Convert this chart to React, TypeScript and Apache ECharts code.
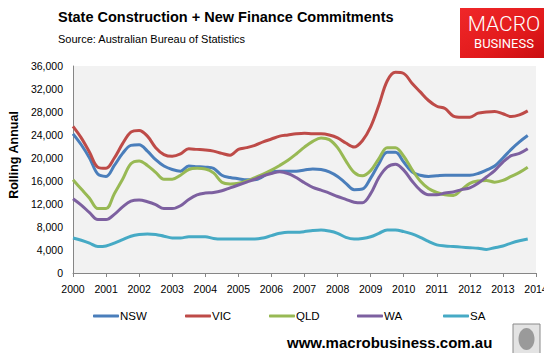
import React, { useEffect, useRef } from "react";
import * as echarts from "echarts";

const firstYear = 2000;
const lastYear = 2014;
const yTicks = [0, 4000, 8000, 12000, 16000, 20000, 24000, 28000, 32000, 36000];

const seriesNames = ["NSW", "VIC", "QLD", "WA", "SA"];
const seriesColors = ["#4a7ebb", "#be4b48", "#98b954", "#7d60a0", "#46aac5"];

// quarterly values, 2000 Q1 .. 2013 Q4
const nsw = [24200, 22300, 20000, 17200, 16800, 18700, 20800, 22200, 22300, 21200, 19700, 18600, 18000, 17700, 18600, 18500, 18400, 18200, 17000, 16600, 16400, 16200, 16200, 16800, 17600, 17700, 17700, 17700, 17900, 18100, 18000, 17600, 16800, 15600, 14500, 14600, 16500, 19000, 21000, 21000, 19300, 17600, 17000, 16800, 16900, 17000, 17000, 17000, 17000, 17300, 17900, 18600, 20000, 21500, 22800, 23900];
const vic = [25500, 23500, 21000, 18400, 18200, 20000, 22500, 24500, 24800, 23800, 21800, 20600, 20300, 20700, 21600, 21500, 21400, 21200, 20800, 20500, 21500, 21800, 22200, 22800, 23300, 23800, 24000, 24200, 24300, 24200, 24200, 24000, 23500, 22600, 21900, 23000, 25400, 29200, 33400, 34900, 34700, 33000, 31500, 30000, 29000, 28600, 27300, 27100, 27100, 27800, 28000, 28100, 27700, 27200, 27500, 28200];
const qld = [16200, 14600, 13000, 11200, 11200, 13800, 16300, 19000, 19500, 18700, 17500, 16300, 16300, 17000, 18000, 18200, 18100, 17400, 15800, 15500, 15600, 16000, 16600, 17200, 17900, 18700, 19600, 20700, 21900, 22900, 23500, 23200, 21800, 19500, 17500, 16900, 17800, 19900, 21800, 21800, 20300, 18000, 16000, 14700, 14000, 13600, 13500, 14500, 15600, 16000, 16100, 15800, 16100, 16800, 17500, 18400];
const wa = [12900, 11800, 10500, 9300, 9300, 10200, 11500, 12500, 12700, 12400, 11900, 11200, 11200, 11700, 12800, 13600, 13900, 14000, 14300, 14800, 15300, 15800, 16300, 16900, 17300, 17600, 17300, 16600, 15700, 14900, 14400, 13900, 13300, 12800, 12300, 12200, 13800, 16600, 18400, 18900, 17900, 16000, 14400, 13600, 13600, 13900, 14100, 14500, 14800, 15600, 16700, 17800, 19300, 20400, 20800, 21600];
const sa = [6100, 5700, 5200, 4600, 4700, 5200, 5800, 6400, 6700, 6800, 6700, 6400, 6100, 6100, 6300, 6300, 6300, 6000, 5900, 5900, 5900, 5900, 5900, 6100, 6500, 6900, 7100, 7100, 7200, 7400, 7500, 7300, 6900, 6200, 5900, 6000, 6300, 6900, 7500, 7500, 7200, 6800, 6200, 5500, 4900, 4700, 4600, 4500, 4400, 4300, 4100, 4400, 4700, 5200, 5600, 5900];

const seriesData = [nsw, vic, qld, wa, sa];

const quarters: string[] = [];
for (let y = firstYear; y < lastYear; y++) {
  for (let q = 1; q <= 4; q++) quarters.push(y + " Q" + q);
}
quarters.push(lastYear + " Q1");

const legendLeft = [93, 185, 269, 357, 443];

export default function App() {
  const ref = useRef<HTMLDivElement>(null);
  useEffect(() => {
    if (!ref.current) return;
    const chart = echarts.init(ref.current, null, { renderer: "svg" });
    const font = "Liberation Sans";
    chart.setOption({
      animation: false,
      backgroundColor: "#ffffff",
      textStyle: { fontFamily: font },
      grid: {
        left: 73,
        right: 16,
        top: 66,
        bottom: 88,
        show: true,
        backgroundColor: "#f2f2f2",
        borderWidth: 0,
        outerBoundsMode: "none",
        containLabel: false,
      },
      xAxis: {
        type: "category",
        data: quarters,
        boundaryGap: false,
        axisLine: { show: true, lineStyle: { color: "#868686", width: 1 } },
        axisTick: {
          show: true,
          length: 4,
          interval: (i: number) => i % 4 === 0,
          lineStyle: { color: "#868686" },
        },
        axisLabel: {
          interval: (i: number) => i % 4 === 0,
          formatter: (v: string) => v.slice(0, 4),
          color: "#000",
          fontSize: 10.5,
          fontFamily: font,
          margin: 10,
          showMaxLabel: true,
          hideOverlap: false,
        },
        splitLine: { show: false },
      },
      yAxis: {
        type: "value",
        min: yTicks[0],
        max: yTicks[yTicks.length - 1],
        interval: 4000,
        axisLine: { show: true, lineStyle: { color: "#868686", width: 1 } },
        axisTick: { show: false },
        axisLabel: {
          color: "#000",
          fontSize: 10.5,
          fontFamily: font,
          margin: 10,
          formatter: (v: number) => v.toLocaleString("en-US"),
        },
        splitLine: { show: false },
      },
      legend: seriesNames.map((n, i) => ({
        data: [n],
        left: legendLeft[i],
        top: 310,
        padding: 0,
        icon: "roundRect",
        itemWidth: 26,
        itemHeight: 3,
        itemGap: 2,
        textStyle: { fontSize: 11.5, color: "#000", fontFamily: font, padding: [0, 0, 0, -4] },
      })),
      series: seriesNames.map((n, i) => ({
        name: n,
        type: "line",
        data: seriesData[i],
        smooth: 0.35,
        showSymbol: false,
        symbol: "none",
        lineStyle: { color: seriesColors[i], width: 3 },
        itemStyle: { color: seriesColors[i] },
        z: 2 + i,
      })),
      graphic: [
        {
          type: "text",
          left: 58,
          top: 9,
          style: {
            text: "State Construction + New Finance Commitments",
            fontSize: 14.5,
            fontWeight: "bold",
            fill: "#000",
            fontFamily: font,
          },
        },
        {
          type: "text",
          left: 58,
          top: 33,
          style: {
            text: "Source: Australian Bureau of Statistics",
            fontSize: 11,
            fill: "#000",
            fontFamily: font,
          },
        },
        {
          type: "text",
          x: 14,
          y: 155,
          rotation: Math.PI / 2,
          style: {
            text: "Rolling Annual",
            fontSize: 12.5,
            fontWeight: "bold",
            fill: "#000",
            fontFamily: font,
            align: "center",
            verticalAlign: "middle",
          },
        },
        {
          type: "rect",
          shape: { x: 460, y: 5, width: 89, height: 53 },
          style: {
            fill: new echarts.graphic.LinearGradient(0, 0, 1, 1, [
              { offset: 0, color: "#f0282a" },
              { offset: 0.6, color: "#e21a1c" },
              { offset: 1, color: "#c80c10" },
            ]),
          },
        },
        {
          type: "text",
          x: 504,
          y: 24,
          style: {
            text: "MACRO",
            fontSize: 21,
            lineHeight: 21,
            fontWeight: 300,
            fill: "#ffffff",
            fontFamily: "Roboto",
            align: "center",
            verticalAlign: "middle",
          },
        },
        {
          type: "text",
          x: 504,
          y: 43,
          style: {
            text: "BUSINESS",
            fontSize: 13,
            lineHeight: 13,
            fill: "#ffffff",
            fontFamily: "Roboto",
            align: "center",
            verticalAlign: "middle",
          },
        },
        {
          type: "text",
          left: 287,
          top: 335,
          style: {
            text: "www.macrobusiness.com.au",
            fontSize: 15,
            fontWeight: "bold",
            fill: "#000",
            fontFamily: font,
          },
        },
        {
          type: "rect",
          shape: { x: 513, y: 324, width: 27, height: 30 },
          style: { fill: "#e3e3e3", stroke: "#8a8a8a", lineWidth: 1 },
        },
        {
          type: "ellipse",
          shape: { cx: 526.5, cy: 339, rx: 8, ry: 11 },
          style: { fill: "#9a9a9a" },
        },
      ],
    });
    return () => chart.dispose();
  }, []);
  return <div ref={ref} style={{ width: 552, height: 361, margin: -8 }} />;
}
